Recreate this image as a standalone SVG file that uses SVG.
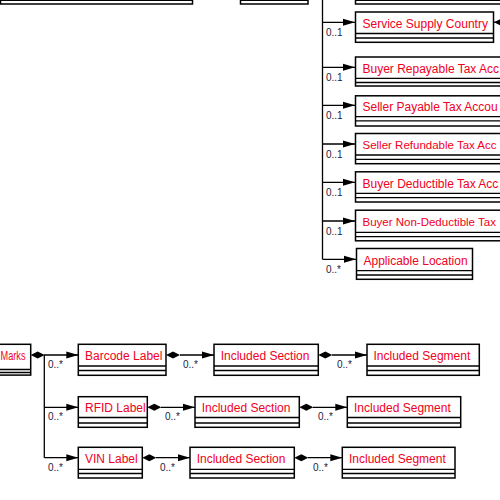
<svg xmlns="http://www.w3.org/2000/svg" xmlns:xlink="http://www.w3.org/1999/xlink" width="500" height="500" viewBox="0 0 500 500">
<style>
.box{fill:#fff;stroke:#000;stroke-width:1.5}
.cmp{stroke:#000;stroke-width:1.3}
.lbl{font-family:"Liberation Sans",Arial,sans-serif;font-size:12px;fill:#f00022}
.card{font-family:"Liberation Sans",Arial,sans-serif;font-size:10px;fill:#1c1c3c}
.ln{stroke:#000;stroke-width:1.3;fill:none}
</style>
<defs>
<path id="arr" d="M-12,-3.5 L0,0 L-12,3.5 Z" fill="#000"/>
<path id="dia" d="M0,0 L7,-3.5 L14,0 L7,3.5 Z" fill="#000"/>
</defs>
<rect width="500" height="500" fill="#fff"/>

<g id="top-left-box"><rect class="box" x="0.5" y="-27" width="192" height="31"/><line class="cmp" x1="0" y1="0.3" x2="192.5" y2="0.3"/></g>
<g id="top-mid-box"><rect class="box" x="240.5" y="-27" width="67.5" height="31"/><line class="cmp" x1="240.5" y1="0.3" x2="308" y2="0.3"/></g>
<g id="top-right-box"><rect class="box" x="355.5" y="-27" width="160" height="31"/><line class="cmp" x1="355.5" y1="0.3" x2="515" y2="0.3"/></g>

<g id="connectors">
<line class="ln" x1="322.5" y1="0" x2="322.5" y2="259.3"/>
<line class="ln" x1="322.5" y1="22.3" x2="355" y2="22.3"/><use xlink:href="#arr" x="355" y="22.3"/>
<line class="ln" x1="493" y1="22.3" x2="510" y2="22.3"/><use xlink:href="#dia" x="494" y="22.3"/>
<line class="ln" x1="322.5" y1="67.3" x2="355" y2="67.3"/><use xlink:href="#arr" x="355" y="67.3"/>
<line class="ln" x1="322.5" y1="105.3" x2="355" y2="105.3"/><use xlink:href="#arr" x="355" y="105.3"/>
<line class="ln" x1="322.5" y1="144" x2="355" y2="144"/><use xlink:href="#arr" x="355" y="144"/>
<line class="ln" x1="322.5" y1="182.3" x2="355" y2="182.3"/><use xlink:href="#arr" x="355" y="182.3"/>
<line class="ln" x1="322.5" y1="221" x2="355" y2="221"/><use xlink:href="#arr" x="355" y="221"/>
<line class="ln" x1="322.5" y1="259.3" x2="356" y2="259.3"/><use xlink:href="#arr" x="356" y="259.3"/>

<use xlink:href="#dia" x="30.7" y="355"/>
<line class="ln" x1="44" y1="355" x2="78" y2="355"/><use xlink:href="#arr" x="78.3" y="355"/>
<line class="ln" x1="44.3" y1="355" x2="44.3" y2="457.7"/>
<use xlink:href="#dia" x="166" y="355"/>
<line class="ln" x1="180" y1="355" x2="214" y2="355"/><use xlink:href="#arr" x="214" y="355"/>
<use xlink:href="#dia" x="318.3" y="355"/>
<line class="ln" x1="332" y1="355" x2="367" y2="355"/><use xlink:href="#arr" x="367" y="355"/>
<line class="ln" x1="44.3" y1="407.3" x2="78" y2="407.3"/><use xlink:href="#arr" x="78.3" y="407.3"/>
<use xlink:href="#dia" x="147.3" y="407.3"/>
<line class="ln" x1="161" y1="407.3" x2="195" y2="407.3"/><use xlink:href="#arr" x="195" y="407.3"/>
<use xlink:href="#dia" x="299.3" y="407.3"/>
<line class="ln" x1="313" y1="407.3" x2="347.3" y2="407.3"/><use xlink:href="#arr" x="347.3" y="407.3"/>
<line class="ln" x1="44.3" y1="457.7" x2="78" y2="457.7"/><use xlink:href="#arr" x="78.3" y="457.7"/>
<use xlink:href="#dia" x="142.3" y="457.7"/>
<line class="ln" x1="156" y1="457.7" x2="190" y2="457.7"/><use xlink:href="#arr" x="190" y="457.7"/>
<use xlink:href="#dia" x="294.3" y="457.7"/>
<line class="ln" x1="308" y1="457.7" x2="342.3" y2="457.7"/><use xlink:href="#arr" x="342.3" y="457.7"/>

<text class="card" x="326" y="36">0..1</text>
<text class="card" x="326" y="81">0..1</text>
<text class="card" x="326" y="119">0..1</text>
<text class="card" x="326" y="157.5">0..1</text>
<text class="card" x="326" y="196">0..1</text>
<text class="card" x="326" y="234.5">0..1</text>
<text class="card" x="326" y="273">0..*</text>
<text class="card" x="48" y="368">0..*</text>
<text class="card" x="183" y="368">0..*</text>
<text class="card" x="337" y="368">0..*</text>
<text class="card" x="48" y="420">0..*</text>
<text class="card" x="165" y="420">0..*</text>
<text class="card" x="318" y="420">0..*</text>
<text class="card" x="48" y="470.5">0..*</text>
<text class="card" x="160" y="470.5">0..*</text>
<text class="card" x="313" y="470.5">0..*</text>
</g>

<g id="service-supply-country"><rect class="box" x="355.5" y="12" width="138" height="30.3"/><line class="cmp" x1="355.5" y1="33.5" x2="493.5" y2="33.5"/><line class="cmp" x1="355.5" y1="38" x2="493.5" y2="38"/><text class="lbl" x="362.5" y="27.5">Service Supply Country</text></g>
<g id="buyer-repayable"><rect class="box" x="355.5" y="57" width="160" height="29"/><line class="cmp" x1="355.5" y1="78.3" x2="515" y2="78.3"/><line class="cmp" x1="355.5" y1="82.5" x2="515" y2="82.5"/><text class="lbl" x="362.5" y="72.5">Buyer Repayable Tax Acc</text></g>
<g id="seller-payable"><rect class="box" x="355.5" y="95.8" width="160" height="30.2"/><line class="cmp" x1="355.5" y1="116.7" x2="515" y2="116.7"/><line class="cmp" x1="355.5" y1="120.8" x2="515" y2="120.8"/><text class="lbl" x="362.5" y="110.5">Seller Payable Tax Accou</text></g>
<g id="seller-refundable"><rect class="box" x="355.5" y="133.5" width="160" height="30.2"/><line class="cmp" x1="355.5" y1="155" x2="515" y2="155"/><line class="cmp" x1="355.5" y1="159.3" x2="515" y2="159.3"/><text class="lbl" x="362.5" y="149" style="font-size:11.5px">Seller Refundable Tax Acc</text></g>
<g id="buyer-deductible"><rect class="box" x="355.5" y="171.8" width="160" height="30.2"/><line class="cmp" x1="355.5" y1="193.3" x2="515" y2="193.3"/><line class="cmp" x1="355.5" y1="197.7" x2="515" y2="197.7"/><text class="lbl" x="362.5" y="187.5">Buyer Deductible Tax Acc</text></g>
<g id="buyer-non-deductible"><rect class="box" x="355.5" y="210.2" width="160" height="30.6"/><line class="cmp" x1="355.5" y1="232.3" x2="515" y2="232.3"/><line class="cmp" x1="355.5" y1="236.7" x2="515" y2="236.7"/><text class="lbl" x="362.5" y="226" style="font-size:11.5px">Buyer Non-Deductible Tax</text></g>
<g id="applicable-location"><rect class="box" x="356.5" y="248.5" width="116" height="30.8"/><line class="cmp" x1="356.5" y1="270.7" x2="472.5" y2="270.7"/><line class="cmp" x1="356.5" y1="275" x2="472.5" y2="275"/><text class="lbl" x="363.5" y="264.5">Applicable Location</text></g>

<g id="marks"><rect class="box" x="-20" y="344.3" width="50.7" height="30.8"/><line class="cmp" x1="-20" y1="369.5" x2="30.7" y2="369.5"/><line class="cmp" x1="-20" y1="372.5" x2="30.7" y2="372.5"/><text class="lbl" x="0.5" y="359.5" textLength="25" lengthAdjust="spacingAndGlyphs">Marks</text></g>
<g id="barcode-label"><rect class="box" x="78.3" y="344.3" width="87.7" height="31"/><line class="cmp" x1="78.3" y1="366" x2="166" y2="366"/><line class="cmp" x1="78.3" y1="370.5" x2="166" y2="370.5"/><text class="lbl" x="85" y="359.5">Barcode Label</text></g>
<g id="included-section-1"><rect class="box" x="214" y="344.3" width="104.3" height="31"/><line class="cmp" x1="214" y1="366" x2="318.3" y2="366"/><line class="cmp" x1="214" y1="370.5" x2="318.3" y2="370.5"/><text class="lbl" x="220.7" y="359.5">Included Section</text></g>
<g id="included-segment-1"><rect class="box" x="367" y="344.3" width="112.3" height="31"/><line class="cmp" x1="367" y1="366" x2="479.3" y2="366"/><line class="cmp" x1="367" y1="370.5" x2="479.3" y2="370.5"/><text class="lbl" x="373.5" y="359.5">Included Segment</text></g>

<g id="rfid-label"><rect class="box" x="78.3" y="396.7" width="69" height="30.6"/><line class="cmp" x1="78.3" y1="417.5" x2="147.3" y2="417.5"/><line class="cmp" x1="78.3" y1="423" x2="147.3" y2="423"/><text class="lbl" x="85" y="412">RFID Label</text></g>
<g id="included-section-2"><rect class="box" x="195" y="396.7" width="104.3" height="30.6"/><line class="cmp" x1="195" y1="417.5" x2="299.3" y2="417.5"/><line class="cmp" x1="195" y1="423" x2="299.3" y2="423"/><text class="lbl" x="201.7" y="412">Included Section</text></g>
<g id="included-segment-2"><rect class="box" x="347.3" y="396.7" width="113.4" height="30.6"/><line class="cmp" x1="347.3" y1="417.5" x2="460.7" y2="417.5"/><line class="cmp" x1="347.3" y1="423" x2="460.7" y2="423"/><text class="lbl" x="354" y="412">Included Segment</text></g>

<g id="vin-label"><rect class="box" x="78.3" y="447.3" width="64" height="30.7"/><line class="cmp" x1="78.3" y1="469.3" x2="142.3" y2="469.3"/><line class="cmp" x1="78.3" y1="473.5" x2="142.3" y2="473.5"/><text class="lbl" x="85" y="462.5">VIN Label</text></g>
<g id="included-section-3"><rect class="box" x="190" y="447.3" width="104.3" height="30.7"/><line class="cmp" x1="190" y1="469.3" x2="294.3" y2="469.3"/><line class="cmp" x1="190" y1="473.5" x2="294.3" y2="473.5"/><text class="lbl" x="196.7" y="462.5">Included Section</text></g>
<g id="included-segment-3"><rect class="box" x="342.3" y="447.3" width="112.7" height="30.7"/><line class="cmp" x1="342.3" y1="469.3" x2="455" y2="469.3"/><line class="cmp" x1="342.3" y1="473.5" x2="455" y2="473.5"/><text class="lbl" x="349" y="462.5">Included Segment</text></g>
</svg>
